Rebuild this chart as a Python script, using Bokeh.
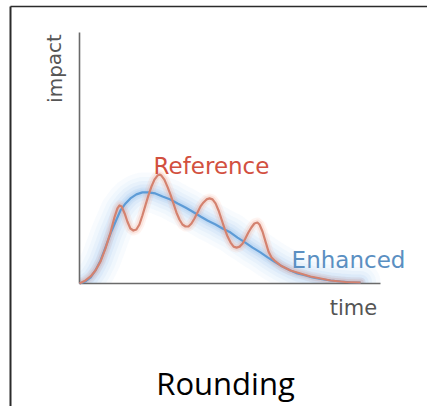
from bokeh.plotting import figure
from bokeh.models import Range1d
from bokeh.core.properties import value
from bokeh.embed import file_html
from bokeh.resources import INLINE

# ---- data ----
ref_time = [0.00, 0.20, 0.37, 0.53, 0.70, 0.86, 1.03, 1.16, 1.26, 1.33, 1.40, 1.50, 1.59, 1.69,
            1.79, 1.89, 1.99, 2.09, 2.19, 2.29, 2.39, 2.49, 2.59, 2.66, 2.72, 2.82, 2.92, 3.02,
            3.12, 3.22, 3.32, 3.42, 3.52, 3.62, 3.72, 3.82, 3.92, 4.02, 4.12, 4.22, 4.32, 4.42,
            4.52, 4.62, 4.72, 4.82, 4.92, 5.02, 5.12, 5.22, 5.32, 5.42, 5.51, 5.61, 5.71, 5.81,
            5.91, 5.98, 6.08, 6.18, 6.28, 6.38, 6.51, 6.68, 7.01, 7.34, 7.67, 8.01, 8.34, 8.84,
            9.34]
ref_impact = [0.00, 0.12, 0.28, 0.52, 0.88, 1.39, 2.03, 2.63, 2.99, 3.11, 3.07, 2.79, 2.47, 2.19,
              2.11, 2.15, 2.35, 2.71, 3.11, 3.51, 3.86, 4.14, 4.30, 4.34, 4.30, 4.14, 3.86, 3.55,
              3.19, 2.83, 2.55, 2.35, 2.27, 2.27, 2.39, 2.59, 2.83, 3.07, 3.23, 3.35, 3.39, 3.35,
              3.19, 2.91, 2.55, 2.19, 1.87, 1.63, 1.47, 1.43, 1.47, 1.59, 1.79, 2.03, 2.23, 2.39,
              2.43, 2.35, 2.07, 1.67, 1.27, 1.04, 0.88, 0.72, 0.52, 0.40, 0.28, 0.20, 0.12, 0.06,
              0.04]

enh_time = [0.00, 0.20, 0.37, 0.53, 0.70, 0.86, 1.03, 1.20, 1.36, 1.53, 1.69, 1.89, 2.09, 2.29,
            2.52, 2.76, 3.02, 3.26, 3.52, 3.75, 4.02, 4.25, 4.52, 4.75, 5.02, 5.25, 5.51, 5.75,
            6.01, 6.25, 6.51, 6.74, 7.01, 7.24, 7.51, 7.74, 8.01, 8.34, 8.67, 9.00, 9.34]
enh_impact = [0.00, 0.08, 0.24, 0.52, 0.92, 1.43, 1.99, 2.47, 2.91, 3.19, 3.39, 3.55, 3.63, 3.63,
              3.59, 3.47, 3.35, 3.19, 3.03, 2.87, 2.67, 2.51, 2.35, 2.19, 2.03, 1.83, 1.63, 1.43,
              1.24, 1.04, 0.84, 0.68, 0.52, 0.40, 0.32, 0.24, 0.18, 0.12, 0.08, 0.05, 0.04]

axis_time = [0.0, 10.0]
axis_impact = [0.0, 10.0]

x_label = "time"
y_label = "impact"
ref_label = "Reference"
enh_label = "Enhanced"
caption = "Rounding"

# ---- layout (pixel mapping) ----
W, H = 427, 406
X0, Y0 = 79.0, 283.0      # pixel position of the origin
SX, SY = 30.1, 25.1       # pixels per data unit


def px_x(px):
    return (px - X0) / SX


def px_y(py):
    return (Y0 - py) / SY


p = figure(width=W, height=H, output_backend="svg", toolbar_location=None,
           x_axis_type=None, y_axis_type=None, min_border=0,
           x_range=Range1d(px_x(0), px_x(W)), y_range=Range1d(px_y(H), px_y(0)))
p.outline_line_color = None
p.background_fill_color = "white"
p.border_fill_color = "white"
p.grid.visible = False

# blue glow
for w, a in [(40, 0.05), (31, 0.06), (23, 0.08), (16, 0.10), (10, 0.13), (6, 0.16)]:
    p.line(enh_time, enh_impact, line_color="#7fb3ea", line_width=w, line_alpha=a,
           line_join="round", line_cap="round")
# red glow
for w, a in [(10, 0.12), (6, 0.22)]:
    p.line(ref_time, ref_impact, line_color="#f3a48f", line_width=w, line_alpha=a,
           line_join="round", line_cap="round")

# keep the glow inside the first quadrant
p.quad(left=[px_x(0)], right=[px_x(W)], bottom=[px_y(H)], top=[0],
       fill_color="white", line_color=None)
p.quad(left=[px_x(0)], right=[0], bottom=[px_y(H)], top=[px_y(0)],
       fill_color="white", line_color=None)

# frame of the slide (left and top edges)
p.line([px_x(10), px_x(10)], [px_y(6), px_y(H + 5)], line_color="#2b2b2b", line_width=2)
p.line([px_x(10), px_x(W + 5)], [px_y(6), px_y(6)], line_color="#2b2b2b", line_width=1.5)

# axes
p.line([0, 0], axis_impact, line_color="#6a6a6a", line_width=1.6)
p.line(axis_time, [0, 0], line_color="#6a6a6a", line_width=1.6)

# curves
p.line(enh_time, enh_impact, line_color="#5d9bd6", line_width=2.2, line_join="round")
p.line(ref_time, ref_impact, line_color="#d4826f", line_width=2.2, line_join="round")

# texts
font = value("DejaVu Sans")
p.text(x=[px_x(211)], y=[px_y(165)], text=[ref_label], text_font=font, text_font_size="23px",
       text_color="#d2503f", text_align="center", text_baseline="alphabetic")
p.text(x=[px_x(348)], y=[px_y(259)], text=[enh_label], text_font=font, text_font_size="23px",
       text_color="#5a8fc2", text_align="center", text_baseline="alphabetic")
p.text(x=[px_x(353)], y=[px_y(307)], text=[x_label], text_font=font, text_font_size="21px",
       text_color="#555555", text_align="center", text_baseline="alphabetic")
p.text(x=[px_x(54)], y=[px_y(68)], text=[y_label], text_font=font, text_font_size="20px",
       text_color="#555555", text_align="center", text_baseline="middle", angle=1.5708)
p.text(x=[px_x(225)], y=[px_y(382)], text=[caption], text_font=value("Open Sans"),
       text_font_size="31px", text_color="#000000", text_align="center", text_baseline="alphabetic")

open("out.html", "w").write(file_html(p, INLINE))
